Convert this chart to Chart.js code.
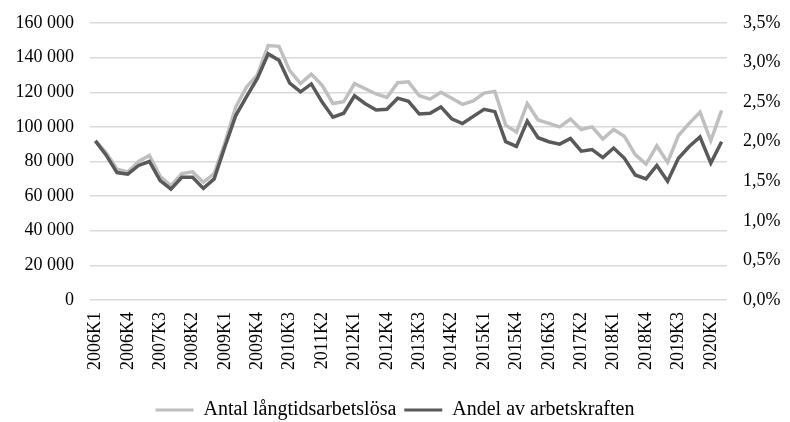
<!DOCTYPE html>
<html>
<head>
<meta charset="utf-8">
<script src="https://cdn.jsdelivr.net/npm/chart.js@4.4.1/dist/chart.umd.min.js"></script>
<style>
  html, body { margin: 0; padding: 0; background: #fff; }
  #wrap { width: 790px; height: 422px; }
</style>
</head>
<body>
<div id="wrap"><canvas id="curve_chart" width="790" height="422"></canvas></div>
<script>
// quarters 2006K1 .. 2020K3
const quarters = [];
for (let y = 2006; y <= 2020; y++) {
    for (let q = 1; q <= 4; q++) {
        if (y === 2020 && q > 3) break;
        quarters.push(y + 'K' + q);
    }
}

// Antal långtidsarbetslösa (persons)
const antal = [
    92000, 85000, 75500, 74000, 80000, 83500, 71500, 66000,
    73000, 74000, 68000, 73000, 91000, 111500, 123000, 130000,
    147000, 146500, 132500, 125000, 130500, 124000, 113500, 114500,
    125000, 122000, 119000, 117000, 125500, 126000, 118000, 116000,
    120000, 116500, 113000, 115000, 119500, 120500, 101000, 97000,
    113500, 104000, 102000, 100000, 104500, 98500, 100000, 93000,
    98500, 94500, 84000, 78500, 89000, 79500, 95000, 102000,
    108500, 92000, 109500
];

// Andel av arbetskraften (%)
const andel = [
    2.01, 1.83, 1.61, 1.59, 1.70, 1.75, 1.51, 1.40,
    1.55, 1.55, 1.41, 1.53, 1.94, 2.33, 2.57, 2.80,
    3.11, 3.03, 2.74, 2.63, 2.73, 2.50, 2.31, 2.36,
    2.58, 2.48, 2.40, 2.41, 2.55, 2.51, 2.35, 2.36,
    2.44, 2.29, 2.23, 2.32, 2.41, 2.38, 2.00, 1.94,
    2.26, 2.05, 2.00, 1.97, 2.04, 1.88, 1.90, 1.80,
    1.92, 1.79, 1.58, 1.53, 1.70, 1.50, 1.79, 1.94,
    2.06, 1.73, 2.00
];

const serif = "'Liberation Serif', 'DejaVu Serif', serif";

function tightY(s, w) {
    s.width = w;
    s.paddingTop = 0;
    s.paddingBottom = 0;
}

const ctx = document.getElementById('curve_chart').getContext('2d');
const myChart = new Chart(ctx, {
    type: 'line',
    data: {
        labels: quarters,
        datasets: [{
            label: 'Antal långtidsarbetslösa',
            data: antal,
            yAxisID: 'y',
            borderColor: '#bfbfbf',
            backgroundColor: '#bfbfbf',
            borderWidth: 3.5,
            pointRadius: 0,
            tension: 0,
            order: 1
        },{
            label: 'Andel av arbetskraften',
            data: andel,
            yAxisID: 'y1',
            borderColor: '#595959',
            backgroundColor: '#595959',
            borderWidth: 3.5,
            pointRadius: 0,
            tension: 0,
            order: 0
        }]
    },
    options: {
        responsive: false,
        animation: false,
        layout: { padding: { top: 23, left: 0, right: 0, bottom: -8 } },
        plugins: {
            tooltip: { enabled: false },
            legend: {
                position: 'bottom',
                labels: {
                    color: '#000',
                    font: { family: serif, size: 20 },
                    boxWidth: 38,
                    boxHeight: 3,
                    padding: 8,
                    sort: (a, b) => a.datasetIndex - b.datasetIndex,
                    generateLabels: function(chart) {
                        const items = Chart.defaults.plugins.legend.labels.generateLabels(chart);
                        items.forEach(it => { it.lineWidth = 0; });
                        return items;
                    }
                }
            }
        },
        scales: {
            x: {
                offset: true,
                grid: { display: false },
                border: { display: false },
                ticks: {
                    autoSkip: false,
                    minRotation: 90,
                    maxRotation: 90,
                    color: '#000',
                    font: { family: serif, size: 18 },
                    padding: 4,
                    callback: function(v, i) { return i % 3 === 0 ? this.getLabelForValue(v) : ''; }
                },
                afterFit: function(s) { s.height = 92; }
            },
            y: {
                position: 'left',
                min: 0,
                max: 160000,
                grid: { color: '#d9d9d9', lineWidth: 1.5, drawTicks: false },
                border: { display: false },
                ticks: {
                    stepSize: 20000,
                    color: '#000',
                    padding: 16,
                    font: { family: serif, size: 18 },
                    callback: v => String(v).replace(/\B(?=(\d{3})+(?!\d))/g, ' ')
                },
                afterFit: s => tightY(s, 90)
            },
            y1: {
                position: 'right',
                min: 0,
                max: 3.5,
                grid: { drawOnChartArea: false, drawTicks: false },
                border: { display: false },
                ticks: {
                    stepSize: 0.5,
                    color: '#000',
                    padding: 16,
                    font: { family: serif, size: 18 },
                    callback: v => v.toFixed(1).replace('.', ',') + '%'
                },
                afterFit: s => tightY(s, 63)
            }
        }
    }
});
</script>
</body>
</html>
